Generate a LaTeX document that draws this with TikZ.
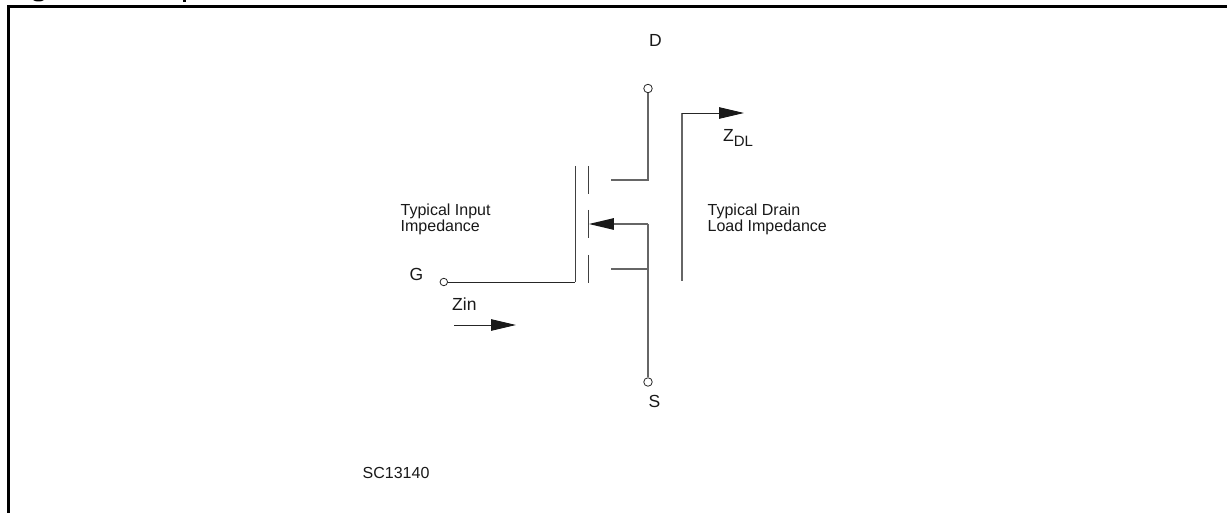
\documentclass[tikz,border=0pt]{standalone}
\usepackage{fontspec}
\setmainfont{Liberation Sans}
\usetikzlibrary{arrows.meta}
\tikzset{
  px/.style={x=1pt,y=-1pt},
  frameline/.style={line width=3pt,black},
  wire/.style={line width=1.1pt,black!60},
  thin wire/.style={line width=0.9pt,black!85},
  plate/.style={line width=0.9pt,black!75},
  terminal/.style={circle,draw=black!85,line width=0.8pt,fill=white,inner sep=0pt,minimum size=8.5pt},
  label/.style={inner sep=0pt,font=\fontsize{16pt}{16.3pt}\selectfont,align=left,text=black!90},
  big/.style={inner sep=0pt,font=\fontsize{17.5pt}{20pt}\selectfont,text=black!90},
  headtip/.style={-{Triangle[length=25pt,width=11.5pt,color=black!90]}}
}
\begin{document}
\begin{tikzpicture}[px]
\useasboundingbox (0,0) rectangle (1227,513);
\fill[white] (0,0) rectangle (1227,513);
\draw[frameline] (8.5,513) |- (1227,6.5);
% clipped remains of the caption above the frame
\fill[black] (33,0) .. controls (35,2) and (42,2) .. (44,0) -- cycle;
\fill[black] (182.5,0) rectangle (186,1.6);
% coordinates
\coordinate (gplateT) at (575,166);
\coordinate (gplateB) at (575,282);
\coordinate (dchT) at (588.7,166);
\coordinate (dchB) at (588.7,194);
\coordinate (mchT) at (588.7,210);
\coordinate (mchB) at (588.7,238);
\coordinate (schT) at (588.7,255);
\coordinate (schB) at (588.7,283);
\coordinate (dstub) at (611,180);
\coordinate (dcorner) at (648,180);
\coordinate (sstub) at (611,269);
\coordinate (sjoin) at (648,269);
\coordinate (mcorner) at (648,224);
\coordinate (mtip) at (588.9,224);
\coordinate (zdlB) at (682,281);
\coordinate (zdlC) at (682,113);
\coordinate (zdlE) at (744,113);
\coordinate (zinS) at (454,325);
\coordinate (zinE) at (516,325);
% terminals
\node[terminal] (D) at (648,88.5) {};
\node[terminal] (S) at (648,382) {};
\node[terminal,minimum size=7.5pt] (G) at (443.8,282) {};
% gate
\draw[plate] (gplateT) -- (gplateB);
\draw[thin wire] (G.east) -- (gplateB);
% channel
\draw[plate] (dchT) -- (dchB);
\draw[plate] (mchT) -- (mchB);
\draw[plate] (schT) -- (schB);
% drain and source
\draw[wire] (dstub) -- (dcorner) -- (D);
\draw[wire] (sstub) -- (sjoin);
\draw[wire] (mcorner) -- (S);
\draw[wire,headtip] (mcorner) -- (mtip);
% impedance arrows
\draw[wire] (zdlB) -- (zdlC);
\draw[thin wire,headtip] (zdlC) -- (zdlE);
\draw[thin wire,headtip] (zinS) -- (zinE);
% labels
\node[big,anchor=base west] (dl) at (649,47) {D};
\node[big,anchor=base west] (gl) at (409.5,280) {G};
\node[big,anchor=base west] (sl) at (648.5,407) {S};
\node[big,anchor=base west] (zinl) at (452,311) {Zin};
\node[big,anchor=base west] (zdl) at (723,142) {Z\raisebox{-5pt}{\fontsize{15pt}{16pt}\selectfont DL}};
\node[label,anchor=base west] (til) at (400.5,232) {Typical Input\\Impedance};
\node[label,anchor=base west] (tdl) at (707.5,232) {Typical Drain\\Load Impedance};
\node[label,anchor=base west] (sc) at (362.5,478) {SC13140};
\end{tikzpicture}
\end{document}
